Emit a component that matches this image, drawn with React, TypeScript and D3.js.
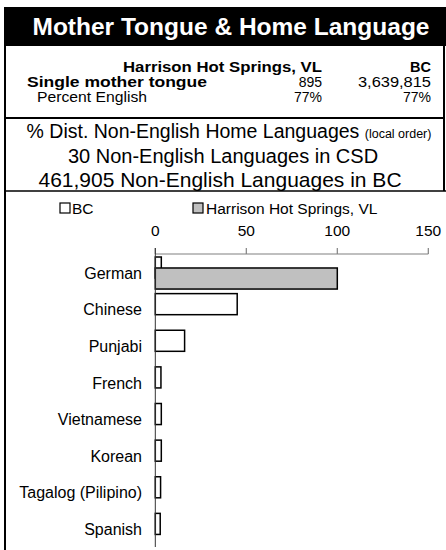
import React from "react";
import * as d3 from "d3";

const categories = ["German", "Chinese", "Punjabi", "French", "Vietnamese", "Korean", "Tagalog (Pilipino)", "Spanish"];
const bcValues = [3.3, 45, 16.1, 3.1, 3.3, 3.3, 2.9, 2.7];
const localValues = [100, 0, 0, 0, 0, 0, 0, 0];
const xTicks = [0, 50, 100, 150];
const seriesNames = ["BC", "Harrison Hot Springs, VL"];
const tableRows = [
  { label: "Single mother tongue", local: "895", bc: "3,639,815", bold: true },
  { label: "Percent English", local: "77%", bc: "77%", bold: false },
];

const W = 446;
const H = 550;
const FONT = "'Liberation Sans', Arial, sans-serif";

export default function App() {
  const x = d3.scaleLinear().domain([0, 150]).range([155.3, 428.3]);
  const y = d3.scaleBand<string>().domain(categories).range([254.5, 547.5]).padding(0);
  const step = y.step();
  const barH = step * 0.575;
  const offset = step * 0.3;

  return (
    <svg width={W} height={H} style={{ position: "absolute", left: 0, top: 0, fontFamily: FONT }}>
      <rect x={0} y={0} width={W} height={H} fill="#fff" />
      {/* title band */}
      <rect x={4} y={7} width={442} height={39} fill="#000" />
      <text x={231} y={35} textAnchor="middle" fill="#fff" fontSize={24.5} fontWeight="bold">
        Mother Tongue &amp; Home Language
      </text>
      {/* borders */}
      <line x1={5} y1={46} x2={5} y2={H} stroke="#000" strokeWidth={2} />
      <line x1={444} y1={46} x2={444} y2={191} stroke="#000" strokeWidth={2} />
      <line x1={5} y1={118} x2={444} y2={118} stroke="#000" strokeWidth={2} />
      <line x1={5} y1={191} x2={446} y2={191} stroke="#000" strokeWidth={1.5} />

      {/* table */}
      <text x={322} y={72} textAnchor="end" fontSize={14.5} fontWeight="bold" textLength={199} lengthAdjust="spacingAndGlyphs">{seriesNames[1]}</text>
      <text x={431} y={72} textAnchor="end" fontSize={14.5} fontWeight="bold">{seriesNames[0]}</text>
      {tableRows.map((r, i) => (
        <g key={r.label}>
          {r.bold ? (
            <text x={27} y={87 + i * 15} fontSize={14.5} fontWeight="bold" textLength={180} lengthAdjust="spacingAndGlyphs">{r.label}</text>
          ) : (
            <text x={37} y={87 + i * 15} fontSize={14} textLength={110} lengthAdjust="spacingAndGlyphs">{r.label}</text>
          )}
          <text x={322} y={87 + i * 15} textAnchor="end" fontSize={14}>{r.local}</text>
          {r.bc.length > 4 ? (
            <text x={431} y={87 + i * 15} textAnchor="end" fontSize={14} textLength={73} lengthAdjust="spacingAndGlyphs">{r.bc}</text>
          ) : (
            <text x={431} y={87 + i * 15} textAnchor="end" fontSize={14}>{r.bc}</text>
          )}
        </g>
      ))}

      {/* subtitle */}
      <text x={229} y={138} textAnchor="middle" fontSize={19.5}>
        % Dist. Non-English Home Languages <tspan fontSize={12.5}>(local order)</tspan>
      </text>
      <text x={223} y={163} textAnchor="middle" fontSize={20}>30 Non-English Languages in CSD</text>
      <text x={220} y={187} textAnchor="middle" fontSize={21}>461,905 Non-English Languages in BC</text>

      {/* legend */}
      <rect x={60} y={203} width={10} height={10} fill="#fff" stroke="#000" strokeWidth={1.2} />
      <text x={72} y={213.5} fontSize={15.5}>{seriesNames[0]}</text>
      <rect x={193} y={203} width={10} height={10} fill="#c0c0c0" stroke="#000" strokeWidth={1.2} />
      <text x={206} y={213.5} fontSize={15.5}>{seriesNames[1]}</text>

      {/* x axis */}
      <line x1={x(0)} y1={254} x2={x(150)} y2={254} stroke="#808080" strokeWidth={1.2} />
      {xTicks.map((t) => (
        <g key={t}>
          <line x1={x(t)} y1={248} x2={x(t)} y2={254} stroke="#808080" strokeWidth={1.2} />
          <text x={x(t)} y={236} textAnchor="middle" fontSize={15.5}>{t}</text>
        </g>
      ))}

      {/* bars */}
      {categories.map((c, i) => {
        const y0 = y(c) as number;
        return (
          <g key={c}>
            <rect x={x(0)} y={y0 + 2.5} width={x(bcValues[i]) - x(0)} height={barH} fill="#fff" stroke="#000" strokeWidth={1.5} />
            {localValues[i] > 0 && (
              <rect x={x(0)} y={y0 + 2.5 + offset} width={x(localValues[i]) - x(0)} height={barH} fill="#c0c0c0" stroke="#000" strokeWidth={1.5} />
            )}
            <text x={142} y={y0 + 2.5 + step * 0.44} dy="0.35em" textAnchor="end" fontSize={16}>{c}</text>
          </g>
        );
      })}
      {/* y axis */}
      <line x1={x(0)} y1={248} x2={x(0)} y2={547} stroke="#333" strokeWidth={1} />
    </svg>
  );
}
